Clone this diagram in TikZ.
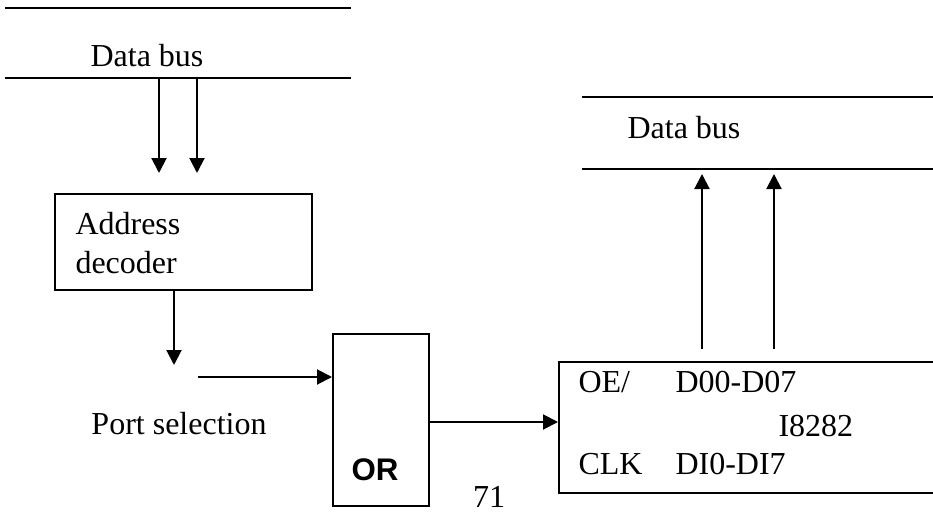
\documentclass[tikz,border=0pt]{standalone}
\usepackage{fontspec}
\setmainfont{Liberation Serif}
\setsansfont{Liberation Sans}
\usetikzlibrary{arrows.meta,positioning}
\tikzset{
  wire/.style={line width=0.8pt},
  sig/.style={wire,-{Triangle[width=6pt,length=6pt]}},
  block/.style={draw,line width=0.8pt,anchor=north west,inner sep=0pt},
  lbl/.style={font=\fontsize{12.8}{15.6}\selectfont,inner sep=0pt}
}
\begin{document}
\begin{tikzpicture}[x=0.4pt, y=-0.4pt]
        % Frame
        \useasboundingbox (0,0) rectangle (933,513);
        \clip (0,0) rectangle (933,513);

        % Upper data bus
        \draw[wire] (5,8) -- (351,8);
        \draw[wire] (5,78) -- (351,78);
        \node[lbl] (busl) at (147,56) {Data bus};
        \coordinate (a1) at (159,78);
        \coordinate (a2) at (197,78);

        % Address decoder
        \node[block, minimum width=102.8pt, minimum height=38.4pt] (dec) at (54,193) {};
        \node[lbl, align=left, anchor=north west] (dectxt) at (75,212) {Address\\decoder};
        \draw[sig] (a1) -- ++(0,95);
        \draw[sig] (a2) -- ++(0,95);

        % Port selection
        \coordinate (psel) at (174,365);
        \draw[sig] (dec.south -| psel) -- (psel);
        \node[lbl] (port) at (179,424) {Port selection};

        % OR gate
        \node[block, minimum width=38.4pt, minimum height=68.8pt] (or) at (332,333) {};
        \node[font=\sffamily\bfseries\fontsize{12.5}{14}\selectfont, inner sep=0pt] (ortxt) at (375,470) {OR};
        \coordinate (pin) at (198,377);
        \draw[sig] (pin) -- (pin -| or.west);

        % I8282 latch
        \node[block, minimum width=156pt, minimum height=52.4pt] (buf) at (558,361) {};
        \node[lbl, anchor=west] (oe) at (578,382) {OE/};
        \node[lbl, anchor=west] (dout) at (675,382) {D00-D07};
        \node[lbl, anchor=west] (chip) at (778,426) {I8282};
        \node[lbl, anchor=west] (clk) at (578,464) {CLK};
        \node[lbl, anchor=west] (din) at (675,464) {DI0-DI7};
        \coordinate (orout) at (428,422);
        \draw[sig] (orout) -- (orout -| buf.west);

        % Lower data bus
        \draw[wire] (582,97) -- (940,97);
        \draw[wire] (582,169) -- (940,169);
        \node[lbl] (busr) at (684,128) {Data bus};
        \coordinate (q1) at (702,349);
        \coordinate (q2) at (774,349);
        \draw[sig] (q1) -- ++(0,-175);
        \draw[sig] (q2) -- ++(0,-175);

        % Page number
        \node[lbl] (page) at (489,497) {71};
\end{tikzpicture}
\end{document}
